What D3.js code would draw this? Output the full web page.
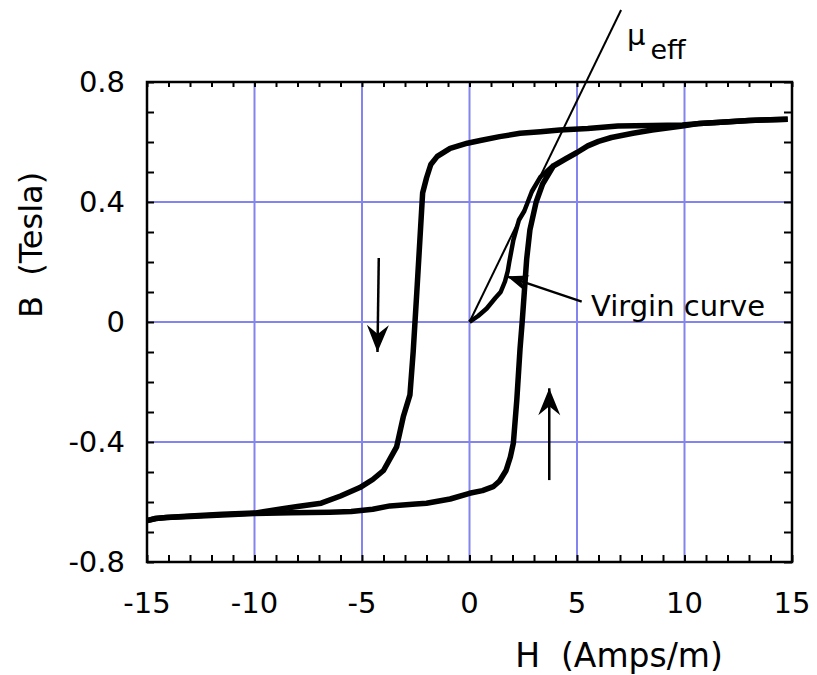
<!DOCTYPE html>
<html><head><meta charset="utf-8">
<script src="https://cdn.jsdelivr.net/npm/d3@7"></script>
<style>
html,body{margin:0;padding:0;background:#fff;}
text{font-family:"DejaVu Sans",Verdana,sans-serif;fill:#000;}
</style></head>
<body><svg id="c" width="817" height="675"></svg>
<script>
// ---- data ----
const xTickValues = [-15, -10, -5, 0, 5, 10, 15];
const xTickLabels = ["-15", "-10", "-5", "0", "5", "10", "15"];
const yTickValues = [0.8, 0.4, 0, -0.4, -0.8];
const yTickLabels = ["0.8", "0.4", "0", "-0.4", "-0.8"];
const xGrid = [-10, -5, 0, 5, 10];
const yGrid = [0.4, 0, -0.4];

// descending branch (H from +15 to -15)
const descH = [14.8, 13.6, 13.0, 11.5, 10.7, 9.9, 8.5, 6.9, 5.5, 4.2, 3.3, 2.35, 1.4, 0.5, -0.1, -0.9, -1.5, -1.8, -2.0, -2.18, -2.45, -2.62, -2.77, -3.08, -3.39, -4.0, -4.5, -5.1, -6.0, -6.9, -8.0, -8.7, -10.0, -11.5, -13.0, -14.1, -14.6, -15.0];
const descB = [0.676, 0.673, 0.672, 0.665, 0.662, 0.657, 0.655, 0.653, 0.645, 0.640, 0.634, 0.629, 0.618, 0.605, 0.596, 0.579, 0.552, 0.525, 0.48, 0.43, 0.10, -0.10, -0.243, -0.316, -0.416, -0.495, -0.525, -0.552, -0.58, -0.604, -0.615, -0.622, -0.637, -0.641, -0.647, -0.652, -0.655, -0.662];

// ascending branch (H from -15 to +15)
const ascH = [-15.0, -14.6, -14.1, -13.0, -11.5, -10.0, -8.3, -6.5, -5.5, -4.5, -3.7, -2.5, -2.0, -0.9, 0.0, 0.6, 1.1, 1.4, 1.7, 1.9, 2.04, 2.2, 2.35, 2.45, 2.55, 2.66, 2.81, 3.1, 3.4, 3.9, 4.5, 5.0, 5.5, 6.0, 6.6, 7.6, 8.5, 9.9, 10.7];
const ascB = [-0.662, -0.655, -0.652, -0.648, -0.643, -0.638, -0.636, -0.634, -0.632, -0.624, -0.613, -0.607, -0.604, -0.59, -0.571, -0.562, -0.549, -0.53, -0.495, -0.45, -0.404, -0.26, -0.09, 0.0, 0.10, 0.21, 0.307, 0.40, 0.46, 0.52, 0.545, 0.565, 0.587, 0.602, 0.615, 0.629, 0.64, 0.653, 0.662];

// virgin curve
const virginH = [0, 0.4, 0.8, 1.2, 1.45, 1.65, 1.78, 1.85, 2.04, 2.3, 2.55, 2.9, 3.3, 3.9];
const virginB = [0, 0.02, 0.045, 0.08, 0.10, 0.135, 0.17, 0.20, 0.273, 0.34, 0.37, 0.435, 0.484, 0.523];

// effective permeability line
const muH = [0, 7.05];
const muB = [0, 1.04];

// ---- layout ----
const svg = d3.select("#c");
const x = d3.scaleLinear().domain([-15, 15]).range([147, 792]);
const y = d3.scaleLinear().domain([-0.8, 0.8]).range([562, 82]);

const defs = svg.append("defs");
defs.append("marker").attr("id", "ah").attr("viewBox", "-28 -12 30 24")
  .attr("markerWidth", 30).attr("markerHeight", 24).attr("refX", 0).attr("refY", 0)
  .attr("markerUnits", "userSpaceOnUse").attr("orient", "auto")
  .append("path").attr("d", "M0,0 L-27,-11 L-18,0 L-27,11 Z").attr("fill", "#000");
defs.append("marker").attr("id", "ah2").attr("viewBox", "-22 -9 24 18")
  .attr("markerWidth", 24).attr("markerHeight", 18).attr("refX", 0).attr("refY", 0)
  .attr("markerUnits", "userSpaceOnUse").attr("orient", "auto")
  .append("path").attr("d", "M0,0 L-21,-8 L-15,0 L-21,8 Z").attr("fill", "#000");

// grid
const gridColor = "#8484ee";
svg.append("g").selectAll("line").data(xGrid).join("line")
  .attr("x1", d => x(d)).attr("x2", d => x(d)).attr("y1", y(0.8)).attr("y2", y(-0.8))
  .attr("stroke", gridColor).attr("stroke-width", 2);
svg.append("g").selectAll("line").data(yGrid).join("line")
  .attr("x1", x(-15)).attr("x2", x(15)).attr("y1", d => y(d)).attr("y2", d => y(d))
  .attr("stroke", gridColor).attr("stroke-width", 2);

// axes with inward ticks
const tickLen = 7;
const xMinor = d3.range(-15, 15.01, 1);
const yMinor = d3.range(-8, 8.01, 1).map(v => v / 10);
const axB = svg.append("g").attr("transform", `translate(0,${y(-0.8)})`)
  .call(d3.axisTop(x).tickValues(xMinor).tickSize(tickLen).tickFormat(""));
const axT = svg.append("g").attr("transform", `translate(0,${y(0.8)})`)
  .call(d3.axisBottom(x).tickValues(xMinor).tickSize(tickLen - 2).tickFormat(""));
const axL = svg.append("g").attr("transform", `translate(${x(-15)},0)`)
  .call(d3.axisRight(y).tickValues(yMinor).tickSize(tickLen).tickFormat(""));
const axR = svg.append("g").attr("transform", `translate(${x(15)},0)`)
  .call(d3.axisLeft(y).tickValues(yMinor).tickSize(tickLen + 1).tickFormat(""));
[axB, axT, axL, axR].forEach(a => {
  a.select(".domain").remove();
  a.selectAll("line").attr("stroke", "#000").attr("stroke-width", 2);
});
svg.append("rect").attr("x", x(-15)).attr("y", y(0.8))
  .attr("width", x(15) - x(-15)).attr("height", y(-0.8) - y(0.8))
  .attr("fill", "none").attr("stroke", "#000").attr("stroke-width", 2.5);

// tick labels
svg.append("g").selectAll("text").data(xTickValues).join("text")
  .attr("x", d => x(d)).attr("y", 613).attr("text-anchor", "middle")
  .attr("font-size", 29).text((d, i) => xTickLabels[i]);
svg.append("g").selectAll("text").data(yTickValues).join("text")
  .attr("x", 125).attr("y", d => y(d)).attr("dy", "0.36em").attr("text-anchor", "end")
  .attr("font-size", 29).text((d, i) => yTickLabels[i]);

// axis titles
svg.append("text").attr("x", 619).attr("y", 667).attr("text-anchor", "middle")
  .attr("font-size", 33).style("white-space", "pre").text("H  (Amps/m)");
svg.append("text").attr("transform", "translate(42,245) rotate(-90)").attr("text-anchor", "middle")
  .attr("font-size", 32).style("white-space", "pre").text("B  (Tesla)");

// curves
const line = d3.line().x(d => x(d[0])).y(d => y(d[1]));
const desc = descH.map((h, i) => [h, descB[i]]);
const asc = ascH.map((h, i) => [h, ascB[i]]);
const virgin = virginH.map((h, i) => [h, virginB[i]]);
const mu = muH.map((h, i) => [h, muB[i]]);

svg.append("path").datum(mu).attr("d", line).attr("fill", "none")
  .attr("stroke", "#000").attr("stroke-width", 2);
svg.append("path").datum(virgin).attr("d", line).attr("fill", "none")
  .attr("stroke", "#000").attr("stroke-width", 4.5)
  .attr("stroke-linejoin", "round");
svg.append("path").datum(asc.concat(desc.filter(d => d[0] > 10.7)).sort((a, b) => a[0] - b[0]))
  .attr("d", line).attr("fill", "none")
  .attr("stroke", "#000").attr("stroke-width", 5.5).attr("stroke-linejoin", "round");
svg.append("path").datum(desc).attr("d", line).attr("fill", "none")
  .attr("stroke", "#000").attr("stroke-width", 5.5).attr("stroke-linejoin", "round");

// direction arrows
const arrows = [
  {h0: -4.22, b0: 0.213, h1: -4.28, b1: -0.10, m: "ah"},
  {h0: 3.71, b0: -0.527, h1: 3.71, b1: -0.221, m: "ah"},
  {h0: 5.22, b0: 0.068, h1: 1.75, b1: 0.152, m: "ah2"}
];
svg.append("g").selectAll("line").data(arrows).join("line")
  .attr("x1", d => x(d.h0)).attr("y1", d => y(d.b0))
  .attr("x2", d => x(d.h1)).attr("y2", d => y(d.b1))
  .attr("stroke", "#000").attr("stroke-width", 2.5)
  .attr("marker-end", d => `url(#${d.m})`);

// annotations
svg.append("text").attr("x", 591).attr("y", 316).attr("font-size", 29).text("Virgin curve");
const mt = svg.append("text").attr("x", 627).attr("y", 45).attr("font-size", 29);
mt.append("tspan").text("μ");
mt.append("tspan").attr("dy", 14).attr("dx", 5).attr("font-size", 27).text("eff");
</script></body></html>
